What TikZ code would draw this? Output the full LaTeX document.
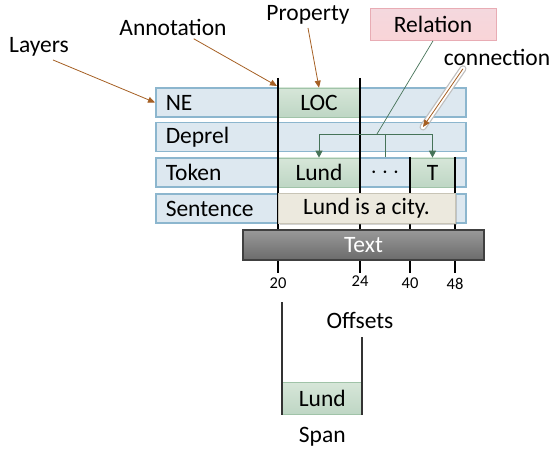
\documentclass[tikz,border=0pt]{standalone}
\usepackage{fontspec}
\setmainfont{Carlito}
\usetikzlibrary{arrows.meta}
\usetikzlibrary{positioning}
\usetikzlibrary{shadows}

\definecolor{layerfill}{RGB}{221,232,240}
\definecolor{layerline}{RGB}{140,182,206}
\definecolor{propup}{RGB}{214,230,216}
\definecolor{propdown}{RGB}{190,214,196}
\definecolor{propline}{RGB}{160,195,168}
\definecolor{relfill}{RGB}{244,216,222}
\definecolor{relline}{RGB}{232,172,180}
\definecolor{sentfill}{RGB}{236,233,222}
\definecolor{sentline}{RGB}{200,196,182}
\definecolor{arrowbrown}{RGB}{165,95,35}
\definecolor{relgreen}{RGB}{70,115,88}

\begin{document}
\begin{tikzpicture}[x=1pt, y=-1pt,
font=\fontsize{23.5}{27}\selectfont,
layer/.style={draw=layerline, fill=layerfill, line width=1.5pt, minimum height=29pt, text width=290pt, inner xsep=10pt, align=left, anchor=west},
prop/.style={top color=propup, bottom color=propdown, draw=propline, line width=0.6pt, minimum height=29pt, inner sep=0pt},
sent/.style={fill=sentfill, draw=sentline, line width=0.8pt, minimum height=30pt, inner sep=0pt, drop shadow={opacity=0.35, shadow xshift=2pt, shadow yshift=-2pt}},
textbox/.style={top color=black!40, bottom color=black!58, draw=black!75, line width=1.2pt, minimum height=30pt, minimum width=241pt, inner sep=0pt, text=white},
relbox/.style={top color=relfill, bottom color=relfill!85!red!60, draw=relline, line width=0.8pt, minimum height=32pt, minimum width=126pt, inner sep=0pt},
offset/.style={font=\fontsize{16.5}{19}\selectfont, inner sep=1pt},
border/.style={black, line width=1.3pt},
pointer/.style={draw=arrowbrown, line width=0.8pt, -{Triangle[length=7pt,width=6pt]}},
link/.style={draw=relgreen, line width=0.9pt},
]
\useasboundingbox (0,0) rectangle (550,452);

% layers
\node[layer] (ne) at (155,102.5) {NE};
\node[layer] (deprel) at (155,137) {Deprel};
\node[layer] (token) at (155,172.5) {Token};
\node[layer] (sentence) at (155,208.5) {Sentence};

% annotations
\node[prop, minimum width=82pt] (loc) at (319,102.5) {LOC};
\node[prop, minimum width=82pt] (lund) at (319,172.5) {Lund};
\node[prop, minimum width=45pt] (t) at (432.5,172.5) {T};
\node (dots) at (385,172.5) {$\cdots$};

% offsets
\coordinate (a1) at (278,78);
\coordinate (a2) at (278,273);
\coordinate (b1) at (360,78);
\coordinate (b2) at (360,273);
\coordinate (c1) at (410,157);
\coordinate (c2) at (410,273);
\coordinate (d1) at (455,157);
\coordinate (d2) at (455,273);
\draw[border] (a1) -- (a2);
\draw[border] (b1) -- (b2);
\draw[border] (c1) -- (c2);
\draw[border] (d1) -- (d2);

% relation
\coordinate (hub) at (377,134);
\draw[link, -{Triangle[length=7pt,width=7pt]}] (hub) -| (lund.north);
\draw[link, -{Triangle[length=7pt,width=7pt]}] (hub) -| (t.north);
\draw[link] (hub -| dots) -- (dots |- token.north);

\node[sent, minimum width=177pt] (city) at (366.5,208.5) {Lund is a city.};
\node[textbox] (text) at (363.5,245) {Text};

\node[offset, below=4pt of a2] {20};
\node[offset, below=2pt of b2] {24};
\node[offset, below=4pt of c2] {40};
\node[offset, below=4pt of d2] {48};
\node (offsets) at (360,320) {Offsets};

% span
\coordinate (s1) at (282,302);
\coordinate (s2) at (282,415);
\coordinate (s3) at (362,337);
\coordinate (s4) at (362,415);
\node[prop, minimum width=80pt, minimum height=32pt, anchor=south west] (span) at (s2) {Lund};
\draw[border, black!80] (s1) -- (s2);
\draw[border, black!80] (s3) -- (s4);
\node[below=9pt of span] {Span};

% labels
\node (layers) at (39,47) {Layers};
\node (annotation) at (173,27) {Annotation};
\node (property) at (308,15) {Property};
\node[relbox] (relation) at (433,24.5) {Relation};
\node (connection) at (497,57) {connection};
\coordinate (annot) at (277,86);
\coordinate (conn) at (423,127);

\draw[pointer] ([xshift=14pt]layers.south) -- (ne.west);
\draw[pointer] (annotation) -- (annot);
\draw[pointer] (property.south) -- (loc.north);
\draw[link, line width=0.7pt] (relation.south) -- (hub);
\draw[black!25, line width=7pt, line cap=round] ([xshift=-34pt]connection.south) -- (conn);
\draw[white, line width=4.5pt, line cap=round] ([xshift=-34pt]connection.south) -- (conn);
\draw[pointer] ([xshift=-34pt]connection.south) -- (conn);
\end{tikzpicture}
\end{document}
